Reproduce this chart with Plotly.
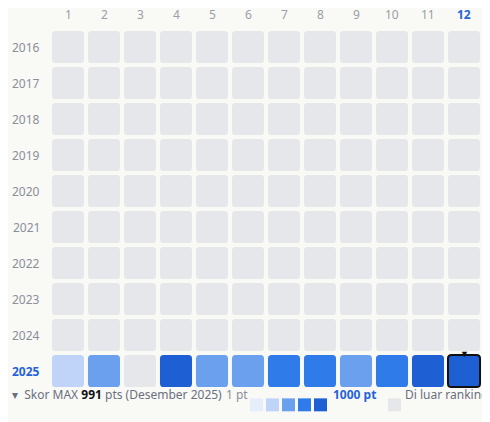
import plotly.graph_objects as go

years = [2016, 2017, 2018, 2019, 2020, 2021, 2022, 2023, 2024, 2025]
months = list(range(1, 13))
# points per month for 2025 (None = out of ranking); earlier years all out
points_2025 = [250, 420, None, 930, 430, 440, 700, 720, 410, 690, 920, 991]
level_colors = ['#e6eefc', '#bfd4f8', '#6ba0ef', '#2f7be9', '#1e5fd3']
out_color = '#e6e7ea'
max_score = 991
max_label = 'Desember 2025'

def bucket(v):
  if v is None:
    return out_color
  return level_colors[min(4, int(v / 200))]

def rrect(x, y, w=0.445, h=0.445, r=0.1):
  x0, x1, y0, y1 = x - w, x + w, y - h, y + h
  return (f'M{x0+r},{y0} L{x1-r},{y0} Q{x1},{y0} {x1},{y0+r} L{x1},{y1-r} Q{x1},{y1} {x1-r},{y1} '
          f'L{x0+r},{y1} Q{x0},{y1} {x0},{y1-r} L{x0},{y0+r} Q{x0},{y0} {x0+r},{y0} Z')

def px(pagex):
  # page pixel -> paper x (plot area spans page x 50..482)
  return (pagex - 50) / 432

fig = go.Figure()
shapes, annos = [], []
font = 'Noto Sans'
for i, yr in enumerate(years):
  yv = i + 1
  for m in months:
    v = points_2025[m - 1] if yr == 2025 else None
    last = yr == 2025 and m == 12
    shapes.append(dict(type='path', path=rrect(m, yv), xref='x', yref='y', fillcolor=bucket(v),
                       line=dict(color='#111' if last else 'rgba(0,0,0,0)', width=2 if last else 0)))
  annos.append(dict(x=0.5, y=yv, xref='x', yref='y', text=f'<b>{yr}</b>' if yr == 2025 else str(yr),
                    xanchor='right', xshift=-8, showarrow=False,
                    font=dict(family=font, size=12, color='#2563d9' if yr == 2025 else '#8a8f99')))
for m in months:
  annos.append(dict(x=m, y=0.5, xref='x', yref='y', text=f'<b>{m}</b>' if m == 12 else str(m),
                    yanchor='bottom', yshift=4, showarrow=False,
                    font=dict(family=font, size=12, color='#2563d9' if m == 12 else '#9a9ea6')))
annos.append(dict(x=12, y=9.5, xref='x', yref='y', text='▼', showarrow=False, yanchor='middle',
                  font=dict(size=9, color='#111')))
fig.add_trace(go.Scatter(x=months, y=[1]*12, mode='markers', marker=dict(opacity=0), hoverinfo='skip'))

# legend row
ly = -0.044
annos.append(dict(x=px(10), y=ly, xref='paper', yref='paper', xanchor='left', showarrow=False,
                  text=f'▾  Skor MAX <b style="color:#111">{max_score}</b> pts ({max_label})',
                  font=dict(family=font, size=12, color='#6b7080')))
annos.append(dict(x=px(224), y=ly, xref='paper', yref='paper', xanchor='left', showarrow=False,
                  text='1 pt', font=dict(family=font, size=12, color='#8a8f99')))
for k, c in enumerate(level_colors):
  x0 = 250 + k * 16
  shapes.append(dict(type='rect', xref='paper', yref='paper', x0=px(x0), x1=px(x0 + 13),
                     y0=ly - 0.018, y1=ly + 0.018, fillcolor=c, line_width=0))
annos.append(dict(x=px(331), y=ly, xref='paper', yref='paper', xanchor='left', showarrow=False,
                  text='<b>1000 pt</b>', font=dict(family=font, size=12, color='#2563d9')))
shapes.append(dict(type='rect', xref='paper', yref='paper', x0=px(388), x1=px(401), y0=ly - 0.018, y1=ly + 0.018,
                   fillcolor=out_color, line_width=0))
annos.append(dict(x=px(403), y=ly, xref='paper', yref='paper', xanchor='left', showarrow=False,
                  text='Di luar ranking', font=dict(family=font, size=12, color='#6b7080')))

fig.update_layout(width=482, height=414, margin=dict(l=42, r=8, t=21, b=33),
                  paper_bgcolor='#f9f9f6', plot_bgcolor='#f9f9f6', showlegend=False,
                  shapes=shapes, annotations=annos,
                  xaxis=dict(range=[0.5, 12.5], visible=False, fixedrange=True),
                  yaxis=dict(range=[10.5, 0.5], visible=False, fixedrange=True))
fig.write_html('out.html', config=dict(displayModeBar=False))
